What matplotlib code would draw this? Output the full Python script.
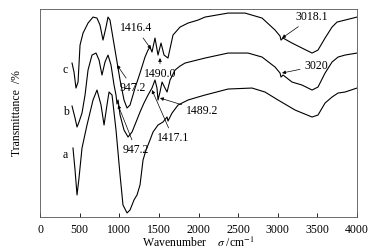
import matplotlib.pyplot as plt

plt.rcParams['font.family'] = ['Liberation Serif', 'DejaVu Serif']
plt.rcParams['mathtext.fontset'] = 'stix'

# curve c (top)
wn_c = [404, 429, 454, 480, 505, 543, 606, 669, 719, 757, 795, 833, 858, 883, 921, 972,
        1010, 1060, 1098, 1136, 1199, 1262, 1325, 1363, 1388, 1413, 1451, 1489, 1527,
        1565, 1615, 1678, 1767, 1868, 1994, 2082, 2373, 2587, 2802, 2966, 3029, 3041,
        3067, 3180, 3306, 3433, 3508, 3597, 3685, 3748, 3849, 4000]
t_c = [154, 145, 129, 135, 172, 184, 194, 200, 199, 192, 177, 190, 200, 197, 179, 155,
       137, 117, 109, 112, 129, 144, 160, 167, 170, 165, 179, 162, 174,
       162, 159, 182, 190, 194, 197, 200, 204, 204, 199, 187, 181, 177,
       179, 174, 169, 164, 167, 179, 190, 195, 197, 200]

# curve b (middle)
wn_b = [404, 442, 467, 492, 530, 568, 606, 656, 707, 745, 782, 820, 858, 896, 934, 959,
        972, 985, 1010, 1060, 1111, 1161, 1212, 1262, 1312, 1363, 1413, 1451, 1476, 1489,
        1514, 1540, 1577, 1603, 1641, 1704, 1767, 1830, 2082, 2373, 2625, 2802, 2966,
        3029, 3041, 3067, 3180, 3306, 3433, 3508, 3597, 3685, 3761, 3849, 4000]
t_b = [111, 99, 90, 95, 104, 122, 147, 162, 164, 157, 142, 155, 162, 152, 132, 122,
       113, 117, 102, 87, 80, 85, 95, 105, 114, 122, 129, 137, 129, 117,
       125, 135, 129, 125, 137, 147, 151, 154, 159, 164, 164, 160, 150,
       144, 140, 142, 135, 132, 127, 130, 144, 155, 160, 162, 164]

# curve a (bottom)
wn_a = [416, 442, 467, 492, 530, 593, 669, 719, 770, 808, 845, 871, 909, 959, 1010,
        1047, 1098, 1136, 1186, 1224, 1262, 1300, 1338, 1388, 1426, 1489, 1552, 1603,
        1615, 1666, 1742, 1868, 1994, 2082, 2373, 2675, 2839, 3004, 3218, 3433, 3508,
        3597, 3685, 3761, 3849, 4000]
t_a = [69, 47, 22, 39, 69, 92, 117, 127, 112, 92, 112, 125, 122, 87, 42,
       12, 4, 7, 17, 22, 32, 57, 67, 77, 85, 92, 95, 100,
       96, 104, 112, 117, 120, 122, 128, 129, 125, 117, 107, 100, 102,
       114, 120, 124, 125, 129]

# annotations: text, text position, arrow target
notes = [
    ("1416.4", (1211, 189), (1401, 168)),
    ("1490.0", (1514, 143), (1514, 159)),
    ("947.2", (1174, 129), (972, 152)),
    ("3018.1", (3433, 200), (3054, 179)),
    ("3020", (3483, 151), (3054, 144)),
    ("1489.2", (2044, 106), (1514, 119)),
    ("1417.1", (1678, 79), (1413, 127)),
    ("947.2", (1211, 67), (985, 112)),
]
curve_labels = [("c", 315, 147), ("b", 328, 105), ("a", 315, 62)]

fig = plt.figure(figsize=(3.75, 2.52), dpi=100)
ax = fig.add_axes([0.1067, 0.139, 0.8453, 0.825])

for wn, t in [(wn_c, t_c), (wn_b, t_b), (wn_a, t_a)]:
    ax.plot(wn, t, color='black', lw=0.8)

for txt, xy_text, xy in notes:
    ax.annotate(txt, xy=xy, xytext=xy_text, fontsize=8.5, ha='center', va='center',
                arrowprops=dict(arrowstyle='-|>', color='black', lw=0.5,
                                mutation_scale=5, shrinkA=1, shrinkB=0))

for lab, x, y in curve_labels:
    ax.text(x, y, lab, fontsize=8.5, ha='center', va='center')

ax.set_xlim(0, 4000)
ax.set_ylim(0, 208)
ax.set_xticks(range(0, 4001, 500))
ax.set_yticks([])
ax.tick_params(axis='x', direction='in', length=3, labelsize=8.5, pad=5, width=0.6)
for s in ax.spines.values():
    s.set_linewidth(0.6)
    s.set_color('#555555')

ax.set_xlabel(r'Wavenumber    $\mathit{\sigma}$ /cm$^{-1}$', fontsize=8.5, labelpad=0)
ax.set_ylabel('Transmittance  /%', fontsize=8.5, labelpad=12)

fig.savefig('out.png', dpi=100)
